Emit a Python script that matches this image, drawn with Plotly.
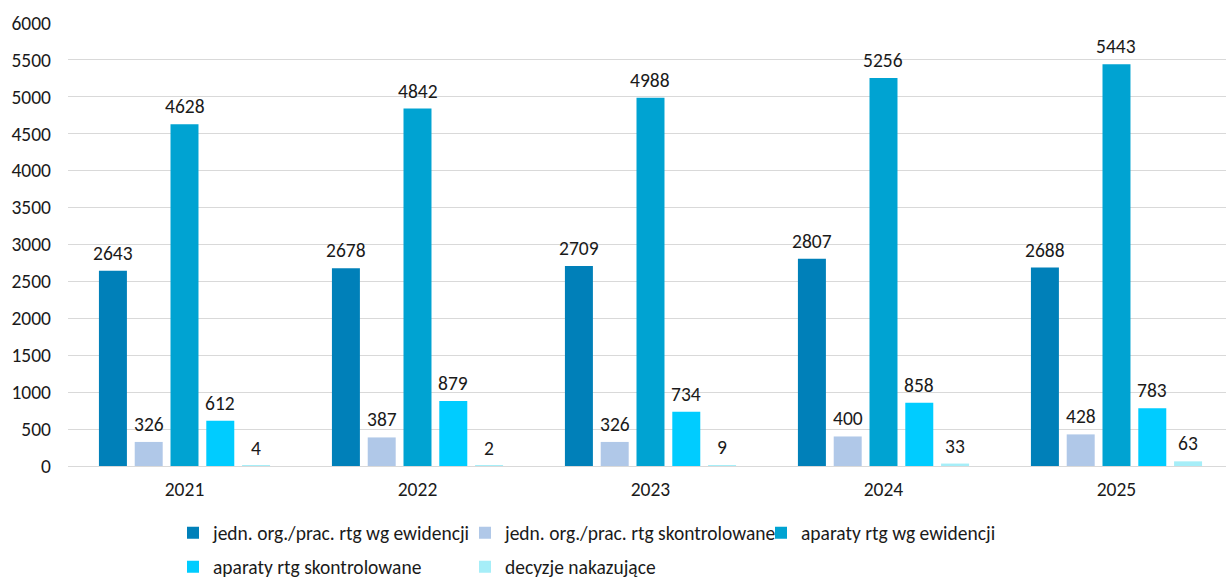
import plotly.graph_objects as go

years = ["2021", "2022", "2023", "2024", "2025"]
series_names = [
    "jedn. org./prac. rtg wg ewidencji",
    "jedn. org./prac. rtg skontrolowane",
    "aparaty rtg wg ewidencji",
    "aparaty rtg skontrolowane",
    "decyzje nakazujące",
]
jedn_ewid = [2643, 2678, 2709, 2807, 2688]
jedn_skontr = [326, 387, 326, 400, 428]
aparaty_ewid = [4628, 4842, 4988, 5256, 5443]
aparaty_skontr = [612, 879, 734, 858, 783]
decyzje = [4, 2, 9, 33, 63]
y_ticks = [0, 500, 1000, 1500, 2000, 2500, 3000, 3500, 4000, 4500, 5000, 5500, 6000]

series = [jedn_ewid, jedn_skontr, aparaty_ewid, aparaty_skontr, decyzje]
colors = ["#0080B9", "#B0C8E8", "#00A3D2", "#00CCFF", "#A6EEF8"]

FONT = "Carlito"
FS = 19.5
TXT = "#1a1a1a"
BARGAP = 0.232
BARGROUPGAP = 0.218
W, H = 1226, 579

# legend entry placement (container px): left x, centre y
legend_pos = [(173, 533), (465, 533), (761, 533), (173, 567), (465, 567)]
legend_ids = ["legend", "legend2", "legend3", "legend4", "legend5"]

fig = go.Figure()
n = len(series)
slot = (1 - BARGAP) / n
for k, (name, vals, col, lg) in enumerate(zip(series_names, series, colors, legend_ids)):
    fig.add_trace(go.Bar(
        x=years, y=vals, name=name, marker=dict(color=col, line=dict(width=0)),
        legend=lg, showlegend=True,
    ))
    for i, v in enumerate(vals):
        fig.add_annotation(
            x=i + (k - (n - 1) / 2) * slot, y=v, xref="x", yref="y",
            text=str(v), showarrow=False, yanchor="middle", yshift=18,
            font=dict(family=FONT, size=FS, color=TXT),
        )

layout_legends = {}
for lg, (lx, ly) in zip(legend_ids, legend_pos):
    layout_legends[lg] = dict(
        visible=True,
        orientation="h", xref="container", yref="container",
        x=lx / W, y=(H - ly) / H, xanchor="left", yanchor="middle",
        font=dict(family=FONT, size=FS, color=TXT),
        itemclick=False, itemdoubleclick=False, bgcolor="rgba(0,0,0,0)",
    )

fig.update_layout(
    width=W, height=H,
    showlegend=True,
    margin=dict(l=68, r=0, t=23, b=113),
    plot_bgcolor="white", paper_bgcolor="white",
    barmode="group", bargap=BARGAP, bargroupgap=BARGROUPGAP,
    font=dict(family=FONT, size=FS, color=TXT),
    xaxis=dict(type="category", range=[-0.5, 4.47], showline=True, linecolor="#d9d9d9", linewidth=1,
               ticks="", ticklabelstandoff=6, showgrid=False,
               tickfont=dict(family=FONT, size=FS, color=TXT)),
    yaxis=dict(range=[0, 6000], tickvals=y_ticks, showgrid=True, gridcolor="#d9d9d9",
               gridwidth=1, zeroline=False, showline=False, ticks="", ticklabelstandoff=16,
               tickfont=dict(family=FONT, size=FS, color=TXT)),
    **layout_legends,
)
fig.write_html("out.html")
